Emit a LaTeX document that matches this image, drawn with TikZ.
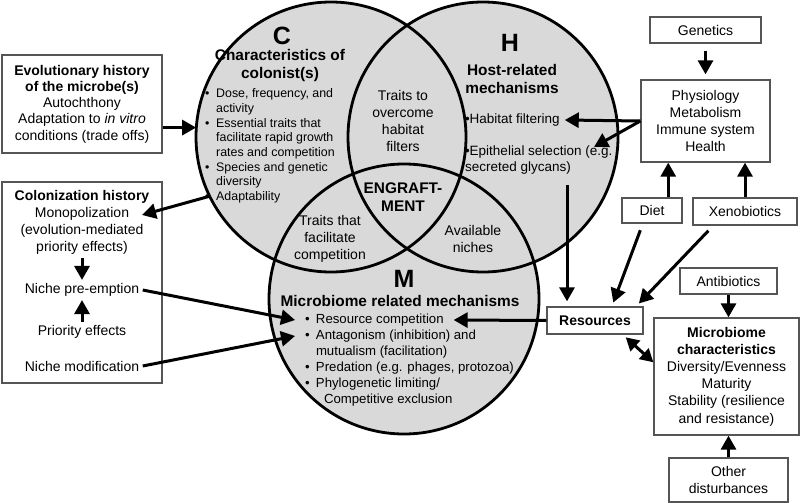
\documentclass[tikz,border=0pt]{standalone}
\usepackage{fontspec}
\setmainfont{Liberation Sans}
\usetikzlibrary{arrows.meta}
\definecolor{venngray}{RGB}{217,217,217}
\definecolor{boxgray}{RGB}{85,85,85}
\newcommand{\venncircle}[2]% center, radius
{(#1) circle (#2)
}
\newcommand{\bul}{\makebox[11pt][l]{\textbullet}}
\newcommand{\ind}{\hspace*{11pt}}

\begin{document}
\begin{tikzpicture}[x=1pt,y=-1pt,
  every node/.style={font=\fontsize{14}{17}\selectfont},
  box/.style={draw=boxgray, line width=1.3pt, align=center, inner sep=0pt},
  vennfill/.style={circle, fill=venngray, minimum size=270pt, inner sep=0pt},
  vennline/.style={line width=2.8pt},
  arr/.style={-{Triangle[length=14pt,width=15pt]}, line width=3pt},
  darr/.style={{Triangle[length=13pt,width=14pt]}-{Triangle[length=13pt,width=14pt]}, line width=3pt},
  letter/.style={font=\fontsize{25}{30}\selectfont\bfseries},
  head/.style={font=\fontsize{15.4}{18}\selectfont\bfseries, align=center},
  citem/.style={font=\fontsize{12.4}{14.7}\selectfont, align=left, inner sep=0pt, anchor=west},
  hitem/.style={font=\fontsize{13.5}{16}\selectfont, align=left, inner sep=0pt, outer xsep=5pt, anchor=west},
  mitem/.style={font=\fontsize{13.2}{16}\selectfont, inner sep=0pt, outer xsep=10pt, anchor=west}
]
\useasboundingbox (0,0) rectangle (800,503);

% the three circles
\node[vennfill] (C) at (331,137) {};
\node[vennfill] (H) at (483,137) {};
\node[vennfill] (M) at (404,299) {};
\draw[vennline] \venncircle{C}{135pt};
\draw[vennline] \venncircle{H}{135pt};
\draw[vennline] \venncircle{M}{135pt};

% colonist circle
\node[letter] (Clab) at (282,36) {C};
\node[head] (Chead) at (280,66) {Characteristics of\\colonist(s)};
\node[citem] (Clist) at (205,146) {\bul Dose, frequency, and\\\ind activity\\\bul Essential traits that\\\ind facilitate rapid growth\\\ind rates and competition\\\bul Species and genetic\\\ind diversity\\\bul Adaptability};

% host circle
\node[letter] (Hlab) at (510,43) {H};
\node[head] (Hhead) at (512,79) {Host-related\\mechanisms};
\node[hitem] (habit) at (460,120) {\textbullet Habitat filtering};
\node[hitem] (epith) at (460,160) {\textbullet Epithelial selection (e.g.\\secreted glycans)};

% overlaps
\node[align=center] (ovc) at (403,120.5) {Traits to\\overcome\\habitat\\filters};
\node[head] (engr) at (403,197) {ENGRAFT-\\MENT};
\node[align=center] (fac) at (330,239) {Traits that\\facilitate\\competition};
\node[align=center] (avail) at (473,239) {Available\\niches};

% microbiome circle
\node[letter] (Mlab) at (404,279) {M};
\node[head] (Mhead) at (400,301) {Microbiome related mechanisms};
\node[mitem] (m1) at (295,320) {\bul Resource competition};
\node[mitem] (m2) at (295,336) {\bul Antagonism (inhibition) and};
\node[mitem] (m3) at (295,352) {\ind mutualism (facilitation)};
\node[mitem] (m4) at (295,368) {\bul Predation (e.g. phages, protozoa)};
\node[mitem] (m5) at (295,384) {\bul Phylogenetic limiting/};
\node[mitem] (m6) at (295,400) {\hspace*{19pt}Competitive exclusion};

% left boxes
\node[box, minimum width=160pt, minimum height=98pt, font=\fontsize{14}{16.3}\selectfont] (evo) at (82,104) {\textbf{Evolutionary history}\\\textbf{of the microbe(s)}\\Autochthony\\Adaptation to \textit{in vitro}\\conditions (trade offs)};
\node[box, minimum width=160pt, minimum height=201pt] (colbox) at (82,282.5) {};
\node[font=\fontsize{14}{17}\selectfont\bfseries] (colhead) at (82,197) {Colonization history};
\node[align=center] (mono) at (82,231) {Monopolization\\(evolution-mediated\\priority effects)};
\node (preempt) at (82,290) {Niche pre-emption};
\node (prio) at (82,332) {Priority effects};
\node (nmod) at (82,366) {Niche modification};
\coordinate (monotip) at (142,215);

% right boxes
\node[box, minimum width=111pt, minimum height=26pt] (gen) at (705.5,30) {Genetics};
\node[box, minimum width=129pt, minimum height=82pt, font=\fontsize{14}{16.8}\selectfont] (phys) at (705.5,121) {Physiology\\Metabolism\\Immune system\\Health};
\node[box, minimum width=60pt, minimum height=25pt] (diet) at (652,210.5) {Diet};
\node[box, minimum width=104pt, minimum height=27pt] (xeno) at (745,211.5) {Xenobiotics};
\node[box, minimum width=96pt, minimum height=27pt, font=\fontsize{14}{17}\selectfont\bfseries] (res) at (595,320.5) {Resources};
\node[box, minimum width=97pt, minimum height=26pt] (abx) at (728.5,281) {Antibiotics};
\node[box, minimum width=145pt, minimum height=117pt, font=\fontsize{14}{17.2}\selectfont] (mchar) at (726.5,376.5) {\textbf{Microbiome}\\\textbf{characteristics}\\Diversity/Evenness\\Maturity\\Stability (resilience\\and resistance)};
\node[box, minimum width=119pt, minimum height=44pt] (other) at (728.5,480) {Other\\disturbances};
\coordinate (hout) at (567,185);
\coordinate (epitip) at (594,147);

% arrows
\draw[arr] (evo.east |- C.176) -- (C.176);
\draw[arr] (C.206) -- (monotip);
\draw[arr] (mono.south) -- (preempt.north);
\draw[arr] (prio.north) -- (preempt.south);
\draw[arr] (preempt.east) -- (m1.west);
\draw[arr] (nmod.east) -- (m2.west);
\draw[arr] (res.west) -- (m1.east);
\draw[arr, shorten >=5pt] (hout) -- (hout |- res.north);
\draw[arr] (phys.west) -- (habit.east);
\draw[arr] (phys.west) -- (epitip);
\draw[arr, shorten <=7pt, shorten >=5pt] (gen.south) -- (phys.north);
\draw[arr] (diet.39) -- (diet.39 |- phys.south);
\draw[arr] (xeno.north) -- (xeno.north |- phys.south);
\draw[arr, shorten <=7pt, shorten >=4pt] (diet.235) -- (res.40);
\draw[arr, shorten <=7pt, shorten >=4pt] (xeno.204) -- (res.19);
\draw[darr, shorten <=4pt] (res.-27) -- (mchar.169);
\draw[arr] (abx.south) -- (abx.south |- mchar.north);
\draw[arr] (other.north) -- (other.north |- mchar.south);
\end{tikzpicture}
\end{document}
